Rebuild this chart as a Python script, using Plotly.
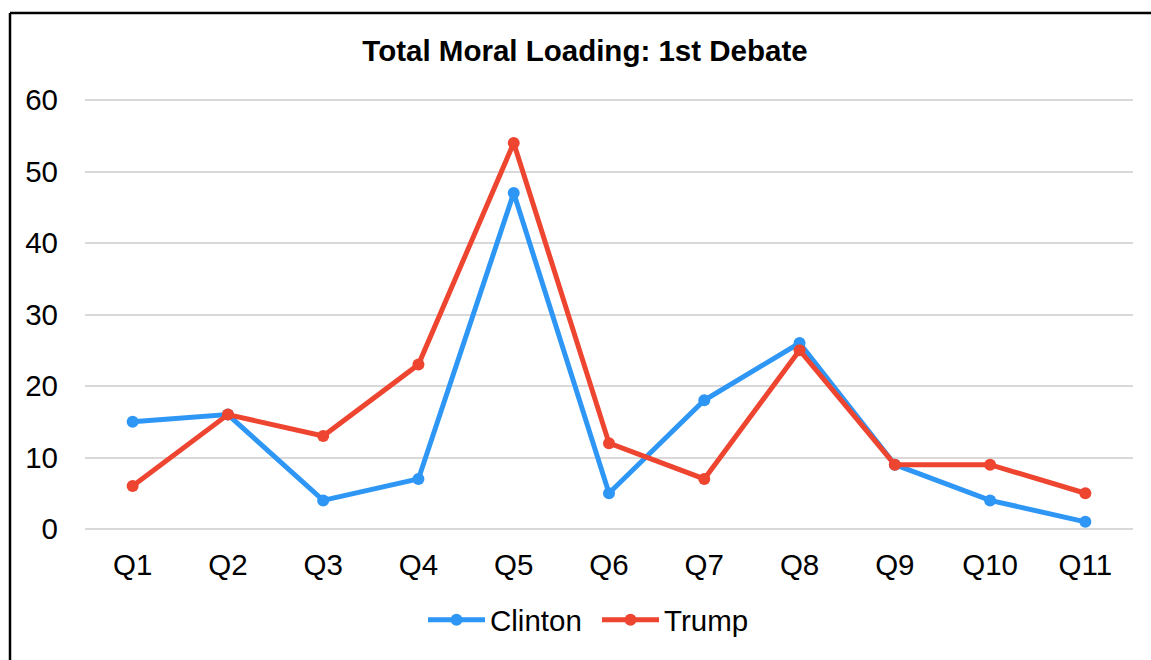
import plotly.graph_objects as go

questions = ["Q1", "Q2", "Q3", "Q4", "Q5", "Q6", "Q7", "Q8", "Q9", "Q10", "Q11"]
clinton = [15, 16, 4, 7, 47, 5, 18, 26, 9, 4, 1]
trump = [6, 16, 13, 23, 54, 12, 7, 25, 9, 9, 5]
y_ticks = [0, 10, 20, 30, 40, 50, 60]

W, H = 1151, 660
ML, MR, MT, MB = 85, 18, 96, 127
PW, PH = W - ML - MR, H - MT - MB
Y_PAD = 4 / 7.15  # small headroom so the 0 and 60 gridlines are drawn

def px_x(p):
    return (p - ML) / PW

def px_y(p):
    return (H - MB - p) / PH

FONT = "Arial, Liberation Sans, sans-serif"
FS = 29.5
BLUE = "#2E96F5"
RED = "#EE4530"

fig = go.Figure()
fig.add_trace(go.Scatter(
    x=questions, y=clinton, name="Clinton", mode="lines+markers",
    line=dict(color=BLUE, width=5), marker=dict(size=12, color=BLUE),
))
fig.add_trace(go.Scatter(
    x=questions, y=trump, name="Trump", mode="lines+markers",
    line=dict(color=RED, width=5), marker=dict(size=12, color=RED),
))

# outer chart frame (left and top edges)
fig.add_shape(type="line", xref="paper", yref="paper",
              x0=px_x(10), x1=px_x(10), y0=px_y(13), y1=px_y(H + 5),
              line=dict(color="black", width=2.5))
fig.add_shape(type="line", xref="paper", yref="paper",
              x0=px_x(10), x1=px_x(W + 5), y0=px_y(13), y1=px_y(13),
              line=dict(color="black", width=2.5))

fig.update_layout(
    width=W, height=H,
    margin=dict(l=ML, r=MR, t=MT, b=MB, autoexpand=False),
    paper_bgcolor="white", plot_bgcolor="white",
    font=dict(family=FONT, size=FS, color="black"),
    title=dict(text="<b>Total Moral Loading: 1st Debate</b>", x=px_x(585), xref="paper",
               xanchor="center", y=1 - 51 / H, yanchor="middle",
               font=dict(family=FONT, size=FS, color="black")),
    xaxis=dict(range=[-0.5, len(questions) - 0.5], showgrid=False, showline=False,
               zeroline=False, ticks="", automargin=False,
               tickfont=dict(size=FS), ticklabelstandoff=11),
    yaxis=dict(range=[-Y_PAD, 60 + Y_PAD], tickvals=y_ticks,
               showgrid=True, gridcolor="#D9D9D9", gridwidth=2, automargin=False,
               zeroline=False, showline=False, ticks="", tickfont=dict(size=FS),
               ticklabelstandoff=26),
    legend=dict(orientation="h", x=px_x(597), xanchor="center", y=px_y(620), yanchor="middle",
                font=dict(size=FS), itemwidth=57, entrywidth=102, entrywidthmode="pixels"),
    showlegend=True,
)

fig.write_html("out.html")
